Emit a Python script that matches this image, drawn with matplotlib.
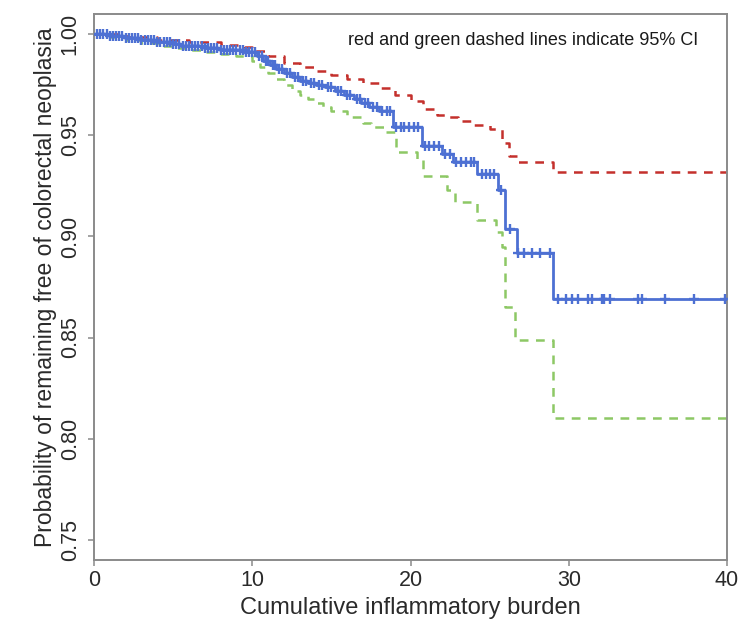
import numpy as np
import matplotlib
matplotlib.use("Agg")
import matplotlib.pyplot as plt

plt.rcParams['font.family'] = ['Liberation Sans', 'DejaVu Sans']

# Kaplan-Meier estimate (blue)
km_times = [0, 1, 2, 3, 4, 5, 5.5, 7, 8, 9.5, 10.3, 10.7, 11.1, 11.5, 12.0, 12.5, 13.0, 13.5,
            14.0, 14.6, 15.2, 15.8, 16.4, 16.9, 17.4, 18.0, 18.9, 20.7, 22.0, 22.7, 24.2,
            25.5, 26.0, 26.7, 29.0]
km_surv = [1.0, 0.999, 0.998, 0.997, 0.996, 0.995, 0.994, 0.993, 0.992, 0.991, 0.989, 0.987,
           0.985, 0.983, 0.981, 0.979, 0.977, 0.976, 0.975, 0.974, 0.972, 0.970, 0.968,
           0.966, 0.964, 0.962, 0.954, 0.9446, 0.9406, 0.9366, 0.931, 0.923, 0.9035,
           0.8916, 0.869]

# Upper 95% CI (red dashed)
upper_times = [0, 2, 4, 6, 8, 9.5, 10.0, 11.0, 12.0, 13.0, 14.0, 15.0, 16.0, 17.0, 18.0,
               19.0, 20.0, 20.8, 21.7, 22.3, 23.0, 24.0, 25.0, 25.8, 26.2, 26.7, 29.0]
upper_surv = [1.0, 0.9985, 0.997, 0.996, 0.9945, 0.9935, 0.9915, 0.989, 0.986, 0.984, 0.982,
              0.980, 0.978, 0.976, 0.9735, 0.970, 0.967, 0.963, 0.960, 0.959, 0.957, 0.955,
              0.953, 0.946, 0.940, 0.9366, 0.932]

# Lower 95% CI (green dashed)
lower_times = [0, 1, 2, 3, 4, 5, 6, 7, 8, 9, 10, 10.5, 11, 11.5, 12, 12.5, 13, 13.5, 14,
               14.5, 15, 16, 17, 17.5, 18.3, 19.1, 20.4, 20.8, 22.3, 22.8, 24.2, 25.4,
               25.8, 26.0, 26.6, 29.0]
lower_surv = [1.0, 0.9985, 0.997, 0.9955, 0.994, 0.993, 0.992, 0.991, 0.990, 0.989, 0.987,
              0.984, 0.981, 0.978, 0.975, 0.972, 0.970, 0.968, 0.966, 0.964, 0.962, 0.959,
              0.956, 0.954, 0.9515, 0.9416, 0.938, 0.930, 0.923, 0.917, 0.908, 0.902,
              0.895, 0.8653, 0.849, 0.810]

# Censoring times (marked with +)
censor_times = [0.2, 0.4, 0.6, 0.8, 1.0, 1.2, 1.4, 1.6, 1.8, 2.0, 2.2, 2.4, 2.6, 2.8, 3.0,
                3.2, 3.4, 3.6, 3.8, 4.0, 4.2, 4.4, 4.6, 4.8, 5.0, 5.2, 5.4, 5.6, 5.8, 6.0,
                6.2, 6.4, 6.6, 6.8, 7.0, 7.2, 7.4, 7.6, 7.8, 8.0, 8.2, 8.4, 8.6, 8.8, 9.0,
                9.2, 9.4, 9.6, 9.8, 10.0, 10.2, 10.45, 10.6, 10.85, 11.0, 11.3, 11.45,
                11.7, 11.9, 12.2, 12.4, 12.7, 12.9, 13.2, 13.4, 13.7, 13.9, 14.2, 14.4,
                14.8, 15.0, 15.4, 15.6, 16.0, 16.2, 16.6, 16.8, 17.1, 17.3, 17.6, 17.9,
                18.2, 18.5, 18.7, 19.1, 19.4, 19.6, 19.9, 20.2, 20.5, 20.9, 21.2, 21.5,
                21.8, 22.2, 22.5, 22.9, 23.2, 23.5, 23.8, 24.0, 24.5, 24.8, 25.0, 25.3,
                25.7, 26.3, 26.8, 27.2, 27.7, 28.2, 28.8, 29.3, 29.8, 30.2, 30.6, 31.2,
                31.5, 32.1, 32.2, 32.6, 34.4, 34.6, 36.1, 37.9, 39.9]

x_ticks = [0, 10, 20, 30, 40]
y_ticks = [0.75, 0.80, 0.85, 0.90, 0.95, 1.00]
y_tick_labels = ["0.75", "0.80", "0.85", "0.90", "0.95", "1.00"]
x_max = 40

fig = plt.figure(figsize=(7.4, 6.23), dpi=100)
ax = fig.add_axes([94 / 740, 63 / 623, 633 / 740, 546 / 623])

def extend(t, s):
    return np.append(t, x_max), np.append(s, s[-1])

ut, us = extend(upper_times, upper_surv)
lt, ls = extend(lower_times, lower_surv)
kt, ks = extend(km_times, km_surv)

ax.step(ut, us, where='post', color='#c4302c', lw=1.8, linestyle=(0, (3.5, 3)), zorder=2)
ax.step(lt, ls, where='post', color='#8dc865', lw=1.8, linestyle=(0, (3.5, 3)), zorder=2)
ax.step(kt, ks, where='post', color='#4d70d3', lw=2.0, zorder=3)

idx = np.searchsorted(np.asarray(km_times), np.asarray(censor_times), side='right') - 1
cy = np.asarray(km_surv)[idx]
ax.plot(censor_times, cy, linestyle='none', marker='+', color='#4d70d3',
        markersize=6.5, markeredgewidth=1.7, zorder=4)

ax.set_xlim(0, x_max)
ax.set_ylim(0.74, 1.01)
ax.set_xticks(x_ticks)
ax.set_yticks(y_ticks)
ax.set_yticklabels(y_tick_labels, rotation=90, va='center')

for sp in ax.spines.values():
    sp.set_color('#8a8a8a')
    sp.set_linewidth(1.4)

ax.tick_params(axis='both', direction='out', length=4.5, width=1.1, color='#8a8a8a',
               labelsize=15.5, labelcolor='#2a2a2a')
ax.tick_params(axis='y', pad=5)
ax.tick_params(axis='x', pad=3)

ax.set_xlabel("Cumulative inflammatory burden", fontsize=17, color='#2a2a2a', labelpad=4)
ax.set_ylabel("Probability of remaining free of colorectal neoplasia", fontsize=16.5,
              color='#2a2a2a', labelpad=2)

ax.text(0.954, 0.952, "red and green dashed lines indicate 95% CI", transform=ax.transAxes,
        ha='right', va='center', fontsize=13, color='#1a1a1a')

fig.savefig("out.png", dpi=100)
